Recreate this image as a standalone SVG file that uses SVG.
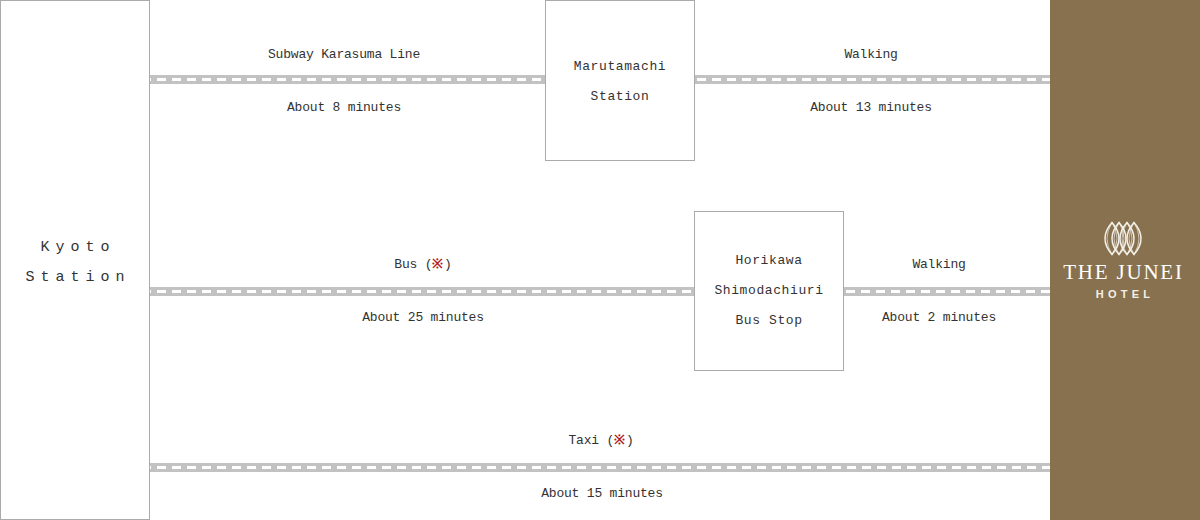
<svg xmlns="http://www.w3.org/2000/svg" width="1200" height="520" viewBox="0 0 1200 520">
<style>
.box{fill:#fff;stroke:#aaa;stroke-width:1}
.band{fill:#c2c2c2}
.dash{stroke:#fff;stroke-width:3;stroke-dasharray:9 6;fill:none}
text{font-family:"Liberation Mono","DejaVu Sans Mono",monospace;font-size:13px;fill:#333;text-anchor:middle;letter-spacing:-.2px}
.st{letter-spacing:.6px}
.big{font-size:15px;letter-spacing:6px}
.mk{fill:#b01c22;font-weight:bold}
.lens{fill:none;stroke:#f4f0e8;stroke-width:1.5}
.lens2{fill:none;stroke:#f4f0e8;stroke-width:.9;opacity:.75}
</style>
<rect width="1200" height="520" fill="#fff"/>
<g id="connectors">
<rect class="band" x="150" y="75" width="395" height="9"/><path class="dash" d="M142 79.500H545"/>
<rect class="band" x="695" y="75" width="355" height="9"/><path class="dash" d="M697 79.500H1050"/>
<rect class="band" x="150" y="287" width="544" height="9"/><path class="dash" d="M142 291.500H694"/>
<rect class="band" x="844" y="287" width="206" height="9"/><path class="dash" d="M846 291.500H1050"/>
<rect class="band" x="150" y="463" width="900" height="9"/><path class="dash" d="M142 467.500H1050"/>
<text x="344" y="58">Subway Karasuma Line</text>
<text x="344" y="111">About 8 minutes</text>
<text x="871" y="58">Walking</text>
<text x="871" y="111">About 13 minutes</text>
<text x="423" y="268">Bus (<tspan class="mk">※</tspan><tspan dx="1">)</tspan></text>
<text x="423" y="321">About 25 minutes</text>
<text x="939" y="268">Walking</text>
<text x="939" y="321">About 2 minutes</text>
<text x="601" y="444">Taxi (<tspan class="mk">※</tspan><tspan dx="1">)</tspan></text>
<text x="602" y="497">About 15 minutes</text>
</g>
<g id="kyoto"><rect class="box" x=".5" y=".5" width="149" height="519"/>
<text class="big" x="78" y="251">Kyoto</text><text class="big" x="78" y="281">Station</text></g>
<g id="marutamachi"><rect class="box" x="545.500" y=".5" width="149" height="160"/>
<text class="st" x="620" y="70">Marutamachi</text><text class="st" x="620" y="100">Station</text></g>
<g id="horikawa"><rect class="box" x="694.500" y="211.500" width="149" height="159"/>
<text class="st" x="769" y="264">Horikawa</text><text class="st" x="769" y="294">Shimodachiuri</text><text class="st" x="769" y="324">Bus Stop</text></g>
<g id="hotel"><rect x="1050" width="150" height="520" fill="#88714f"/>
<path class="lens" d="M1112 222.500Q1098 238.500 1112 254.500Q1126 238.500 1112 222.500Z"/>
<path class="lens" d="M1119 222.500Q1105 238.500 1119 254.500Q1133 238.500 1119 222.500Z"/>
<path class="lens" d="M1127 222.500Q1113 238.500 1127 254.500Q1141 238.500 1127 222.500Z"/>
<path class="lens" d="M1134 222.500Q1120 238.500 1134 254.500Q1148 238.500 1134 222.500Z"/>
<path class="lens2" d="M1112 222.500Q1102 238.500 1112 254.500Q1122 238.500 1112 222.500Z"/>
<path class="lens2" d="M1119 222.500Q1109 238.500 1119 254.500Q1129 238.500 1119 222.500Z"/>
<path class="lens2" d="M1127 222.500Q1117 238.500 1127 254.500Q1137 238.500 1127 222.500Z"/>
<path class="lens2" d="M1134 222.500Q1124 238.500 1134 254.500Q1144 238.500 1134 222.500Z"/>
<text x="1123.500" y="279" style="font-family:'Liberation Serif',serif;font-size:21px;letter-spacing:1.8px;fill:#fff">THE JUNEI</text>
<text x="1125" y="298" style="font-family:'Liberation Sans',sans-serif;font-size:11px;font-weight:bold;letter-spacing:4.200px;fill:#f4f0e8">HOTEL</text>
</g>
</svg>
